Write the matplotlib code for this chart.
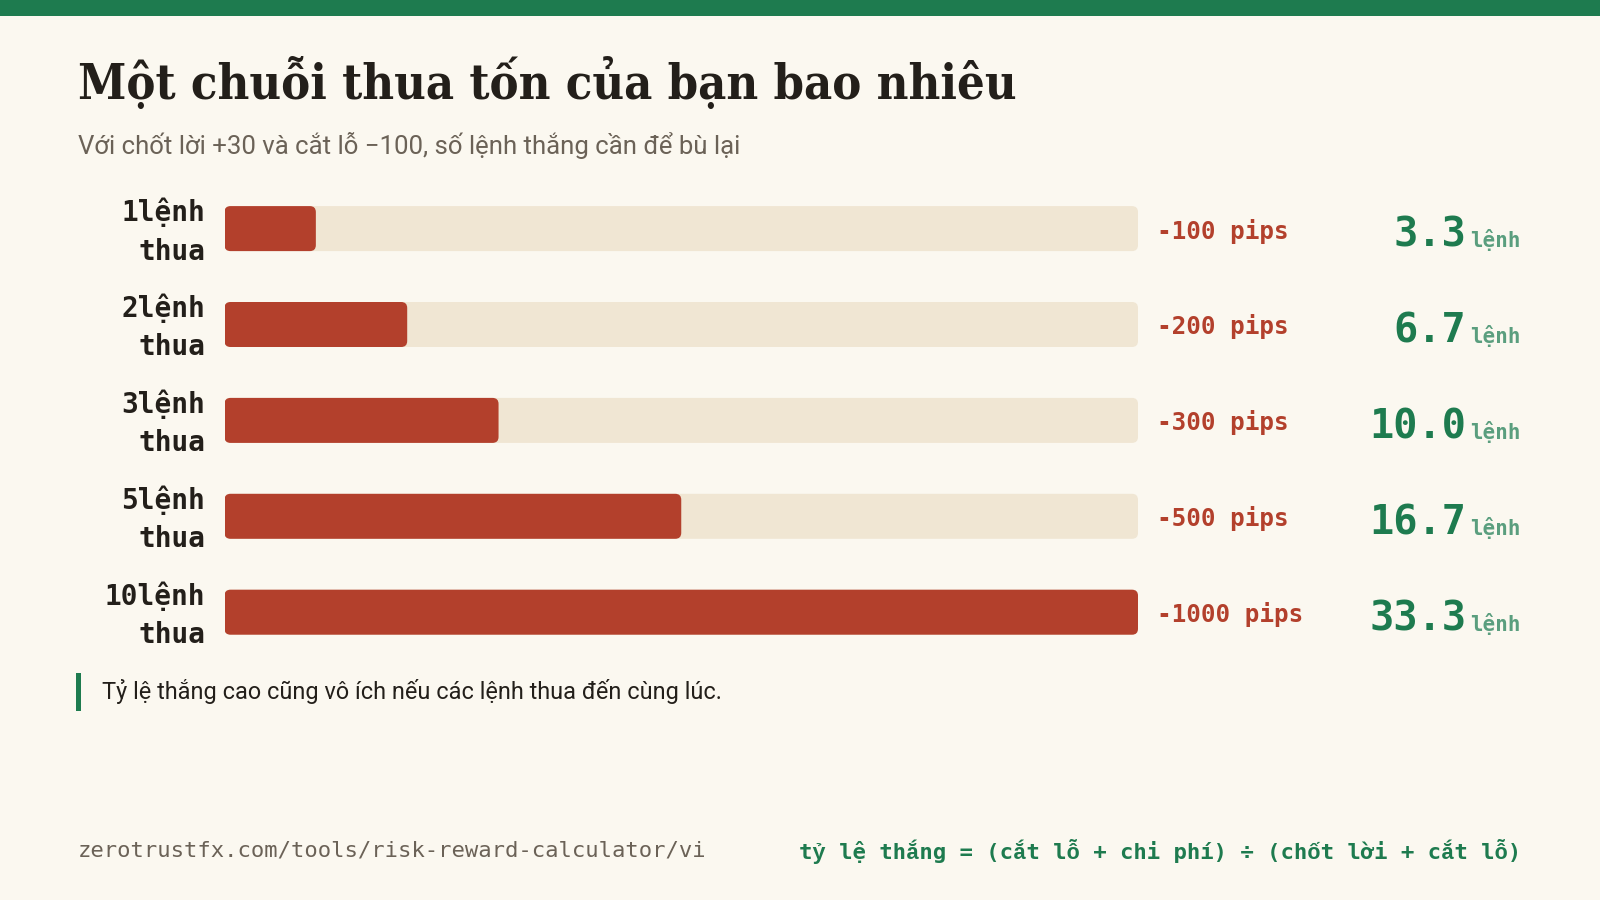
import matplotlib
matplotlib.use("Agg")
import matplotlib.pyplot as plt
from matplotlib.patches import FancyBboxPatch, Rectangle
import numpy as np

# ---- data ----
streak_labels = ["1lệnh\nthua", "2lệnh\nthua", "3lệnh\nthua", "5lệnh\nthua", "10lệnh\nthua"]
loss_pips = [100, 200, 300, 500, 1000]
pips_labels = ["-100 pips", "-200 pips", "-300 pips", "-500 pips", "-1000 pips"]
wins_needed = [3.3, 6.7, 10.0, 16.7, 33.3]
max_pips = 1000

title = "Một chuỗi thua tốn của bạn bao nhiêu"
subtitle = "Với chốt lời +30 và cắt lỗ −100, số lệnh thắng cần để bù lại"
note = "Tỷ lệ thắng cao cũng vô ích nếu các lệnh thua đến cùng lúc."
url = "zerotrustfx.com/tools/risk-reward-calculator/vi"
formula = "tỷ lệ thắng = (cắt lỗ + chi phí) ÷ (chốt lời + cắt lỗ)"

# ---- style ----
BG = "#fbf8f0"
GREEN = "#1e7b4f"
LIGHT_GREEN = "#5a9e7e"
RED = "#b3402c"
TRACK = "#f0e6d3"
DARK = "#231f1a"
GREY = "#6b6257"

W, H = 1600, 900
fig = plt.figure(figsize=(16, 9), dpi=100, facecolor=BG)

def fx(px):
    return px / W

def fy(py):
    return 1 - py / H

# top band
fig.patches.append(Rectangle((0, fy(16)), 1, 16 / H, transform=fig.transFigure,
                             facecolor=GREEN, edgecolor="none"))

SERIF = ["DejaVu Serif", "Liberation Serif"]
SANS = ["Roboto", "DejaVu Sans"]
MONO = ["DejaVu Sans Mono", "Liberation Mono", "DejaVu Sans"]

fig.text(fx(78), fy(99), title, fontsize=35, fontweight="bold", family=SERIF,
         fontstretch="condensed", color=DARK, ha="left", va="baseline")
fig.text(fx(78), fy(145), subtitle, fontsize=18.5, family=SANS,
         color=GREY, ha="left", va="center")

# ---- bars ----
left_px, right_px = 224.5, 1138
top_row, row_step = 228.6, 95.9
n = len(loss_pips)
ax_top = top_row - row_step / 2
ax_h = row_step * n
ax = fig.add_axes([fx(left_px), fy(ax_top + ax_h), (right_px - left_px) / W, ax_h / H])
ax.set_xlim(0, max_pips)
ax.set_ylim(n - 0.5, -0.5)
ax.axis("off")
ax.patch.set_alpha(0)

bar_h = 45 / row_step
ypos = np.arange(n)
track = ax.barh(ypos, [max_pips] * n, height=bar_h, color=TRACK)
bars = ax.barh(ypos, loss_pips, height=bar_h, color=RED)

# convert to rounded rectangles
px_per_x = (right_px - left_px) / max_pips
px_per_y = row_step
radius_px = 6
rx = radius_px / px_per_x
ry = radius_px / px_per_y
for container in (track, bars):
    for p in container.patches:
        x0, y0 = p.get_x(), p.get_y()
        w, h = p.get_width(), p.get_height()
        fb = FancyBboxPatch((x0, y0), w, h,
                            boxstyle=f"round,pad=0,rounding_size={rx}",
                            mutation_aspect=ry / rx,
                            facecolor=p.get_facecolor(), edgecolor="none")
        p.remove()
        ax.add_patch(fb)

tr = ax.get_yaxis_transform()
def axfrac(px):
    return (px - left_px) / (right_px - left_px)

base_off = 18.4 / row_step
lab_off = 3.0 / row_step
for i in range(n):
    ax.text(axfrac(205), i + lab_off, streak_labels[i], transform=tr, ha="right", va="center",
            multialignment="right", fontsize=20, fontweight="bold", family=MONO,
            color=DARK, linespacing=1.47)
    ax.text(axfrac(1157), i, pips_labels[i], transform=tr, ha="left", va="center_baseline",
            fontsize=17.5, fontweight="bold", family=MONO, color=RED)
    ax.text(axfrac(1466), i + base_off, f"{wins_needed[i]:.1f}", transform=tr, ha="right",
            va="baseline", fontsize=29, fontweight="bold", family=MONO, color=GREEN)
    ax.text(axfrac(1521), i + base_off, "lệnh", transform=tr, ha="right",
            va="baseline", fontsize=15, fontweight="bold", family=MONO, color=LIGHT_GREEN)

# ---- note ----
fig.patches.append(Rectangle((fx(76), fy(711)), 5 / W, 38 / H, transform=fig.transFigure,
                             facecolor=GREEN, edgecolor="none"))
fig.text(fx(102), fy(692), note, fontsize=16.9, family=SANS, color=DARK,
         ha="left", va="center")

# ---- footer ----
fig.text(fx(78), fy(851), url, fontsize=16, family=MONO, color=GREY,
         ha="left", va="center")
fig.text(fx(1521), fy(851), formula, fontsize=16, fontweight="bold", family=MONO,
         color=GREEN, ha="right", va="center")

fig.savefig("out.png", dpi=100, facecolor=BG)
